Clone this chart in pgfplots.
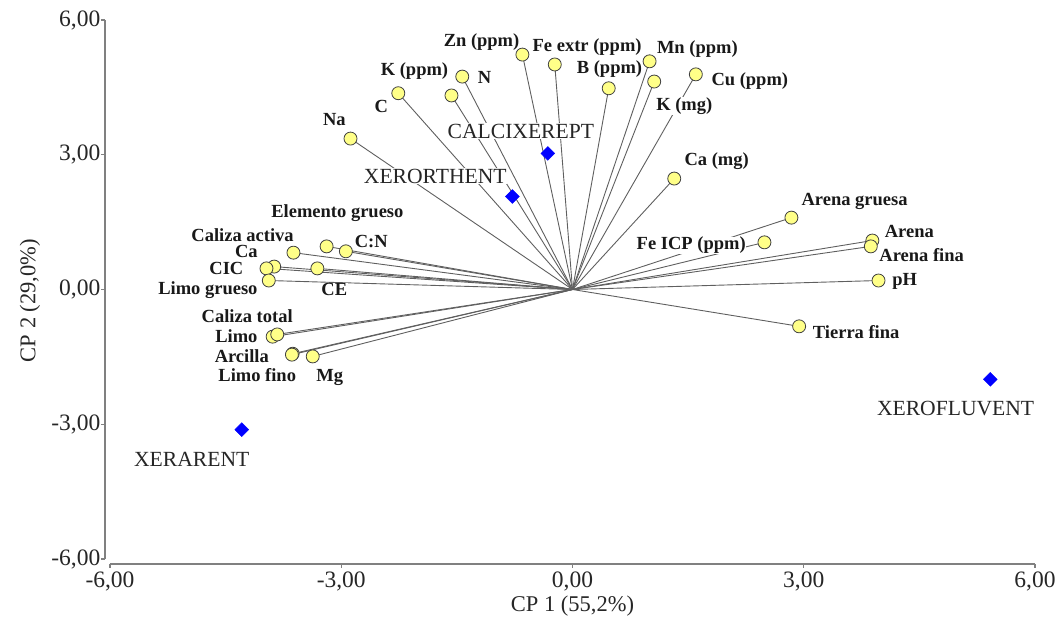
\documentclass[border=0pt]{standalone}
\usepackage{fontspec}
\setmainfont{Liberation Serif}
\usepackage{pgfplots}
\pgfplotsset{compat=1.18}
\usepackage{pgfplotstable}

\definecolor{ptfill}{RGB}{255,255,136}
\definecolor{vecline}{RGB}{95,95,95}
\definecolor{axisgray}{RGB}{128,128,128}
\definecolor{soilblue}{RGB}{0,0,255}

% Loadings of the soil variables on CP 1 and CP 2
\pgfplotstableread{
x y
-0.65 5.23
-0.23 5.01
1.00 5.08
1.60 4.79
0.47 4.48
1.06 4.63
-1.43 4.74
-2.26 4.37
-1.57 4.32
-2.88 3.36
1.32 2.47
2.84 1.60
2.49 1.05
3.89 1.09
3.87 0.96
3.97 0.20
2.94 -0.82
-3.19 0.96
-2.94 0.85
-3.62 0.82
-3.87 0.51
-3.97 0.47
-3.94 0.20
-3.31 0.47
-3.89 -1.05
-3.83 -1.00
-3.63 -1.43
-3.64 -1.45
-3.37 -1.49
}\variables

% Scores of the soil groups
\pgfplotstableread{
x y
-0.32 3.03
-0.78 2.07
-4.29 -3.12
5.42 -2.00
}\soils

\newcommand{\lab}[3]{\node[font=\bfseries\fontsize{18.5}{21}\selectfont, fill=white, inner sep=0.4pt, text=black!90] at (axis cs:#1,#2) {#3};}
\newcommand{\soil}[3]{\node[font=\fontsize{21.6}{25}\selectfont, fill=white, inner sep=0.8pt, text=black!85] at (axis cs:#1,#2) {#3};}

\begin{document}
\begin{tikzpicture}
\begin{axis}[
  scale only axis, width=925pt, height=539pt,
  xmin=-6, xmax=6, ymin=-6, ymax=6,
  clip=false,
  axis lines*=left,
  axis x line shift=5pt, axis y line shift=5pt,
  axis line style={draw=axisgray, line width=1.3pt},
  xtick={-6,-3,0,3,6}, ytick={-6,-3,0,3,6},
  tick align=outside, major tick length=4pt,
  tick style={draw=axisgray, line width=1.3pt},
  ticklabel style={font=\fontsize{23.5}{27}\selectfont, text=black!85},
  yticklabel style={inner xsep=0.5pt},
  xticklabel style={inner ysep=4pt},
  /pgf/number format/fixed, /pgf/number format/fixed zerofill,
  /pgf/number format/precision=2, /pgf/number format/use comma,
  /pgf/number format/assume math mode=true,
  xlabel={CP 1 (55,2\%)}, ylabel={CP 2 (29,0\%)},
  every axis x label/.style={at={(axis description cs:0.5,0)}, anchor=center, yshift=-47pt, font=\fontsize{22.5}{26}\selectfont, text=black!85},
  every axis y label/.style={at={(axis description cs:0,0.5)}, anchor=center, xshift=-80pt, yshift=-11pt, rotate=90, font=\fontsize{22.5}{26}\selectfont, text=black!85},
]
% vectors from the origin to each variable
\addplot[quiver={u=\thisrow{x}, v=\thisrow{y}}, draw=vecline, line width=0.9pt] table[x expr=0, y expr=0] {\variables};

% variable names
\lab{-1.18}{5.50}{Zn (ppm)}
\lab{0.19}{5.39}{Fe extr (ppm)}
\lab{1.62}{5.35}{Mn (ppm)}
\lab{2.30}{4.63}{Cu (ppm)}
\lab{0.48}{4.90}{B (ppm)}
\lab{-2.05}{4.86}{K (ppm)}
\lab{-1.14}{4.72}{N}
\lab{-2.48}{4.08}{C}
\lab{-3.09}{3.79}{Na}
\lab{1.45}{4.08}{K (mg)}
\lab{1.87}{2.85}{Ca (mg)}
\lab{3.66}{1.96}{Arena gruesa}
\lab{1.54}{0.98}{Fe ICP (ppm)}
\lab{4.37}{1.29}{Arena}
\lab{4.53}{0.76}{Arena fina}
\lab{4.31}{0.18}{pH}
\lab{3.68}{-0.94}{Tierra fina}
\lab{-3.05}{1.71}{Elemento grueso}
\lab{-4.28}{1.22}{Caliza activa}
\lab{-2.61}{1.07}{C:N}
\lab{-4.23}{0.84}{Ca}
\lab{-4.49}{0.46}{CIC}
\lab{-4.73}{-0.01}{Limo grueso}
\lab{-3.09}{-0.01}{CE}
\lab{-4.22}{-0.60}{Caliza total}
\lab{-4.36}{-1.04}{Limo}
\lab{-4.29}{-1.49}{Arcilla}
\lab{-4.09}{-1.91}{Limo fino}
\lab{-3.15}{-1.95}{Mg}

% soil group names
\soil{-0.67}{3.52}{CALCIXEREPT}
\soil{-1.78}{2.52}{XERORTHENT}
\soil{-4.94}{-3.79}{XERARENT}
\soil{4.97}{-2.65}{XEROFLUVENT}

% variable points
\addplot[only marks, mark=*, mark size=6.5pt, mark options={fill=ptfill, draw=black!75, line width=0.8pt}] table {\variables};
% soil group points
\addplot[only marks, mark=square*, mark size=4.9pt, mark options={rotate=45, fill=soilblue, draw=soilblue}] table {\soils};
\end{axis}
\pgfresetboundingbox
\path[use as bounding box] ([shift={(-110pt,-72pt)}]current axis.south west) rectangle ([shift={(952pt,559pt)}]current axis.south west);
\end{tikzpicture}
\end{document}
